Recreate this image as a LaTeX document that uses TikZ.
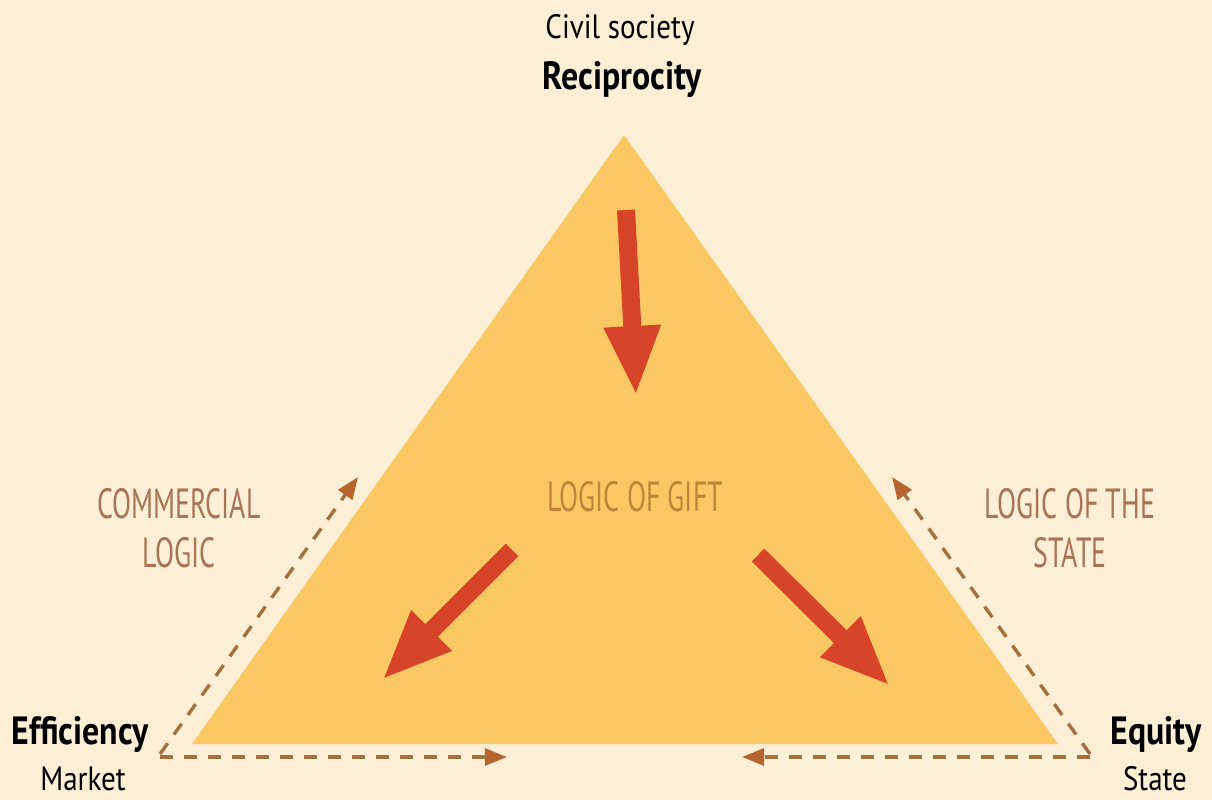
\documentclass[tikz,border=0pt]{standalone}
\usepackage{fontspec}
\setmainfont{PT Sans}[FakeStretch=0.86]
\newfontfamily\etroite{PT Sans}[FakeStretch=0.66]
\usetikzlibrary{arrows.meta}
\usetikzlibrary{calc,shapes}
\definecolor{fond}{HTML}{FDEFD5}
\definecolor{jaune}{HTML}{FAC862}
\definecolor{rouge}{HTML}{D8442A}
\definecolor{brun}{HTML}{A3713F}
\definecolor{pointe}{HTML}{B5652E}
\definecolor{logique}{HTML}{A87456}
\definecolor{don}{HTML}{C0853A}

\begin{document}
\begin{tikzpicture}[x=0.025cm,y=-0.025cm,
	gros/.style={line width=0.45cm,draw=rouge,-{Triangle[width=1.3cm,length=1.75cm,color=rouge]}},
	tirets/.style={line width=0.085cm,draw=brun,dash pattern=on 0.33cm off 0.27cm,-{Triangle[width=0.42cm,length=0.55cm,color=pointe]}},
	pole/.style={font=\fontsize{24}{28}\selectfont,text=black},
	valeur/.style={font=\fontsize{28}{30}\selectfont\bfseries,text=black},
	logique/.style={font=\etroite\fontsize{30}{35}\selectfont,text=logique,align=center}]
				% Fond et triangle
				\fill [fond] (0,0) rectangle (1212,800);
				\coordinate (haut) at (624,135);
				\coordinate (gauche) at (192,744);
				\coordinate (droite) at (1058,744);
				\fill [jaune] (haut) -- (gauche) -- (droite) -- cycle;
				% Sommets
				\node [pole] (civil) at (620,30) {Civil society};
				\node [valeur] (recip) at (622,80) {Reciprocity};
				\node [valeur] (effic) at (80,735) {Efficiency};
				\node [pole] (market) at (83,779) {Market};
				\node [valeur] (equity) at (1156,735) {Equity};
				\node [pole] (state) at (1155,779) {State};
				% Logiques
				\node [logique] (comm) at (179,528) {COMMERCIAL\\LOGIC};
				\node [logique] (etat) at (1070,528) {LOGIC OF THE\\STATE};
				\node [logique,text=don] (gift) at (635,497) {LOGIC OF GIFT};
				% Flèches rouges
				\coordinate (h1) at (626,210);
				\coordinate (h2) at (636,396);
				\coordinate (g1) at (512,550);
				\coordinate (g2) at (382,680);
				\coordinate (d1) at (758,555);
				\coordinate (d2) at (890,686);
				\draw [gros] (h1) -- (h2);
				\draw [gros] (g1) -- (g2);
				\draw [gros] (d1) -- (d2);
				% Flèches en tirets
				\coordinate (mg) at (160,754);
				\coordinate (md) at (1090,754);
				\coordinate (cg) at (358,477);
				\coordinate (cd) at (892,477);
				\coordinate (bg) at (507,757);
				\coordinate (bd) at (742,757);
				\draw [tirets] (mg) -- (cg);
				\draw [tirets] (md) -- (cd);
				\draw [tirets] ($(mg)+(0,3)$) -- (bg);
				\draw [tirets] ($(md)+(0,3)$) -- (bd);
\end{tikzpicture}
\end{document}
